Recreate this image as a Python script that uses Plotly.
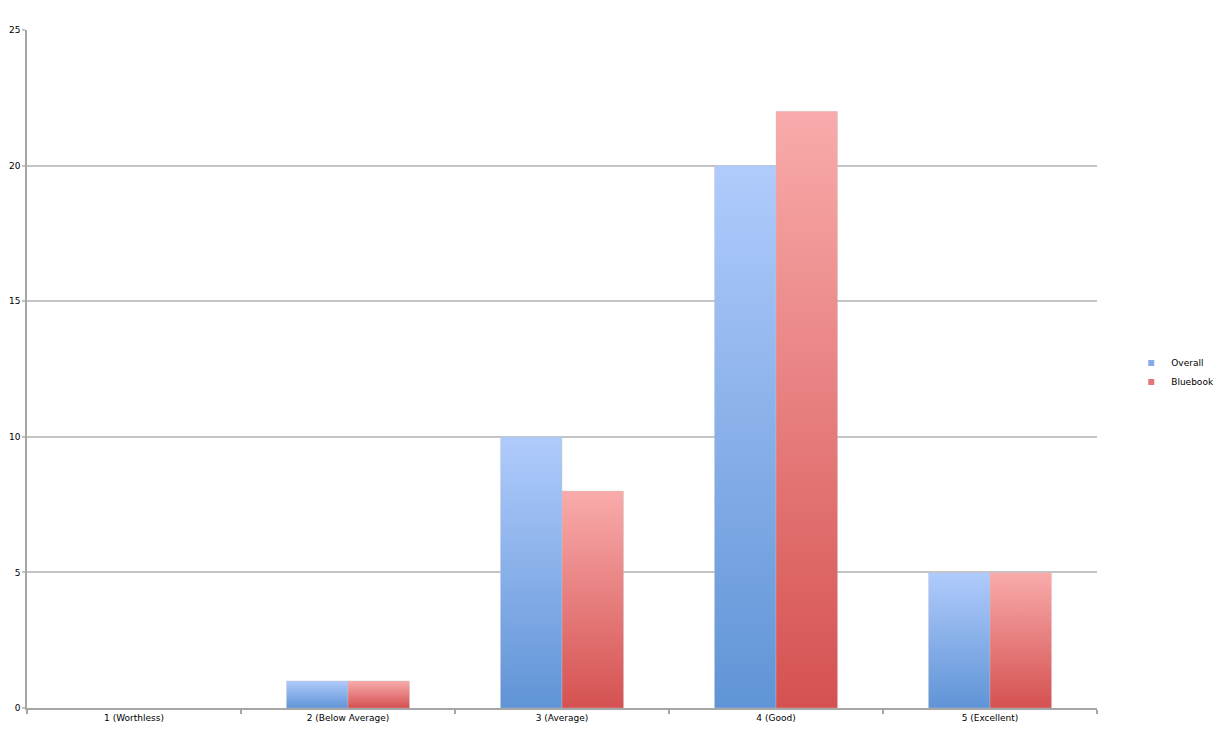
import plotly.graph_objects as go

categories = ["1 (Worthless)", "2 (Below Average)", "3 (Average)", "4 (Good)", "5 (Excellent)"]
overall = [0, 1, 10, 20, 5]
bluebook = [0, 1, 8, 22, 5]
series_names = ["Overall", "Bluebook"]
y_ticks = [0, 5, 10, 15, 20, 25]

light = {"Overall": "#b0cbfc", "Bluebook": "#f9abab"}
dark = {"Overall": "#6094d6", "Bluebook": "#d55151"}
mid = {"Overall": "#86aae8", "Bluebook": "#e67575"}

group_width = 0.575
bar_w = group_width / 2

fig = go.Figure()
for s, (name, vals) in enumerate(zip(series_names, [overall, bluebook])):
    for i, v in enumerate(vals):
        if v <= 0:
            continue
        x0 = i - group_width / 2 + s * bar_w
        x1 = x0 + bar_w
        fig.add_trace(go.Scatter(
            x=[x0, x1, x1, x0, x0], y=[0, 0, v, v, 0],
            mode="lines", fill="toself",
            line=dict(width=0.6, color="rgba(200,200,200,0.6)"),
            fillgradient=dict(type="vertical", start=0, stop=v,
                              colorscale=[[0, dark[name]], [1, light[name]]]),
            showlegend=False, hoverinfo="skip", name=name,
        ))
    fig.add_trace(go.Scatter(x=[None], y=[None], name=name, mode="markers",
                             marker=dict(symbol="square", size=6, color=mid[name]),
                             showlegend=True))

fig.update_layout(
    width=1224, height=743,
    margin=dict(l=19, r=135, t=22, b=43, autoexpand=False),
    plot_bgcolor="white", paper_bgcolor="white",
    font=dict(family="DejaVu Sans", size=9, color="black"),
    legend=dict(x=1.032, y=0.495, xanchor="left", yanchor="middle",
                font=dict(size=9), itemwidth=30, tracegroupgap=4,
                bgcolor="rgba(0,0,0,0)"),
)
fig.update_xaxes(
    range=[-0.5, 4.5], tickmode="array", tickvals=list(range(len(categories))),
    ticktext=categories, ticks="", showgrid=False, zeroline=False,
    showline=True, linecolor="#a6a6a6", linewidth=1.5, automargin=False,
    minor=dict(tickmode="linear", tick0=-0.5, dtick=1, ticks="outside",
               ticklen=4, tickcolor="#a6a6a6", tickwidth=1.5, showgrid=False),
    fixedrange=True,
)
fig.update_yaxes(
    range=[0, 25], tickmode="array", tickvals=y_ticks,
    showgrid=True, gridcolor="#c4c4c4", gridwidth=1.5, zeroline=False,
    showline=True, linecolor="#a6a6a6", linewidth=1.5, automargin=False,
    ticks="outside", ticklen=3, tickcolor="#c4c4c4", tickwidth=1.5,
    fixedrange=True,
)

fig.write_html("out.html")
